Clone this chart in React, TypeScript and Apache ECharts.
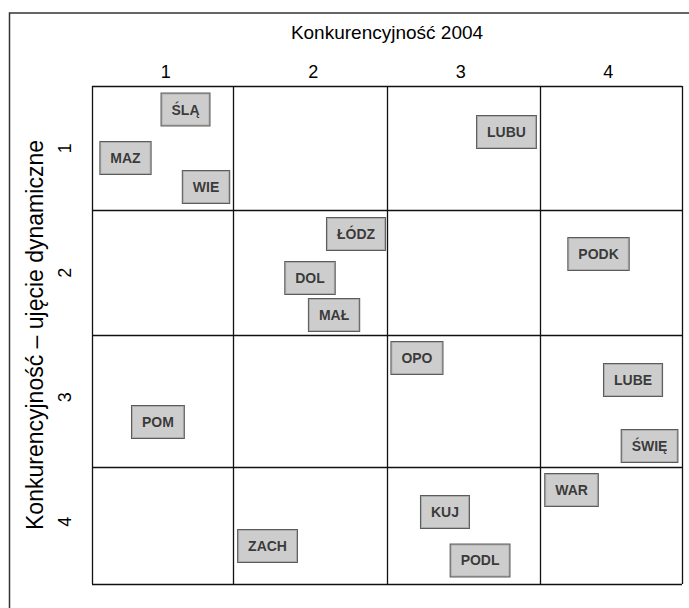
import React, { useEffect, useRef } from "react";
import * as echarts from "echarts";

// Column / row labels
const colLabels = ["1", "2", "3", "4"];
const rowLabels = ["1", "2", "3", "4"];
const xTitle = "Konkurencyjność 2004";
const yTitle = "Konkurencyjność – ujęcie dynamiczne";

// Cell boundaries (in axis units, 0..4)
const xBounds = [0, 0.96, 2, 3.04, 4];
const yBounds = [0, 1, 2, 3.06, 4];

// Regions and their positions in the matrix (axis units)
const regions = ["ŚLĄ", "MAZ", "WIE", "LUBU", "ŁÓDZ", "DOL", "MAŁ", "PODK", "OPO", "LUBE", "ŚWIĘ", "POM", "WAR", "KUJ", "ZACH", "PODL"];
const regionX = [0.634, 0.227, 0.773, 2.81, 1.79, 1.478, 1.641, 3.434, 2.203, 3.668, 3.78, 0.447, 3.251, 2.393, 1.19, 2.631];
const regionY = [0.189, 0.578, 0.811, 0.369, 1.189, 1.542, 1.839, 1.349, 2.185, 2.361, 2.892, 2.699, 3.245, 3.422, 3.695, 3.811];

const FONT = "'Liberation Sans', Arial, sans-serif";

export default function App() {
  const ref = useRef<HTMLDivElement>(null);
  useEffect(() => {
    if (!ref.current) return;
    const chart = echarts.init(ref.current, null, { renderer: "svg" });
    const data = regions.map((r, i) => [regionX[i], regionY[i], r]);
    const lines: any[] = [
      ...xBounds.map((v) => ({ xAxis: v })),
      ...yBounds.map((v) => ({ yAxis: v })),
    ];
    chart.setOption({
      animation: false,
      backgroundColor: "#ffffff",
      textStyle: { fontFamily: FONT },
      graphic: [
        {
          type: "rect",
          shape: { x: 9.5, y: 13, width: 800, height: 800 },
          style: { fill: "transparent", stroke: "#333", lineWidth: 1.5 },
          silent: true,
        },
      ],
      grid: { left: 92, top: 86, width: 590, height: 498 },
      xAxis: [
        { type: "value", min: 0, max: 4, show: false, position: "bottom" },
        {
          type: "category",
          data: colLabels,
          position: "top",
          boundaryGap: true,
          axisLine: { show: false },
          axisTick: { show: false },
          splitLine: { show: false },
          axisLabel: { fontSize: 18, color: "#000", margin: 5, fontFamily: FONT },
          name: xTitle,
          nameLocation: "middle",
          nameGap: 44,
          nameTextStyle: { fontSize: 19, color: "#000", fontFamily: FONT },
        },
      ],
      yAxis: [
        { type: "value", min: 0, max: 4, inverse: true, show: false, position: "right" },
        {
          type: "category",
          data: rowLabels,
          position: "left",
          inverse: true,
          boundaryGap: true,
          axisLine: { show: false },
          axisTick: { show: false },
          splitLine: { show: false },
          axisLabel: { fontSize: 18, color: "#000", margin: 18, rotate: 90, fontFamily: FONT },
          name: yTitle,
          nameLocation: "middle",
          nameGap: 46,
          nameRotate: 90,
          nameTextStyle: { fontSize: 23, color: "#000", fontFamily: FONT },
        },
      ],
      series: [
        {
          type: "scatter",
          xAxisIndex: 0,
          yAxisIndex: 0,
          clip: false,
          symbol: "rect",
          symbolSize: 1,
          itemStyle: { color: "rgba(0,0,0,0)" },
          data,
          label: {
            show: true,
            position: "inside",
            formatter: (p: any) => p.data[2],
            fontFamily: FONT,
            fontWeight: "bold",
            fontSize: 14,
            color: "#111",
            backgroundColor: "#c0c0c0",
            borderColor: "#333",
            borderWidth: 1,
            padding: [9, 10],
          },
          markLine: {
            silent: true,
            symbol: "none",
            label: { show: false },
            lineStyle: { color: "#111", width: 1.3, type: "solid" },
            data: lines,
          },
        },
      ],
    });
    return () => chart.dispose();
  }, []);
  return <div ref={ref} style={{ position: "fixed", left: 0, top: 0, width: 689, height: 608 }} />;
}
